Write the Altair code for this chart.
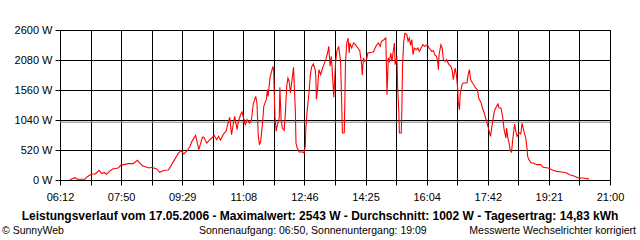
import json
import altair as alt
import pandas as pd

# Power readings (minutes after midnight, W)
minutes = [
    388, 396, 400, 412, 416, 423, 429, 435, 439, 444, 447, 453, 458, 466, 470, 482, 490, 497, 501, 506,
    516, 520, 528, 533, 540, 547, 555, 563, 567, 572, 577, 582,
    585, 591, 596, 602, 604, 609, 614, 617, 621, 625, 628, 631, 636, 640, 644, 646, 649, 652, 654, 658,
    660, 664, 666, 671, 674, 678, 681,
    684, 688, 690, 692, 694, 696, 699, 701, 705, 707, 708, 711, 714, 716, 717, 719, 721, 723, 726, 727,
    729, 731, 734, 736, 738, 740, 742, 744, 746, 749, 750, 752, 753, 755, 758, 764, 766, 768, 769, 771,
    774, 776, 778, 781, 784, 785, 786, 788, 790,
    793, 795, 798, 801, 804, 806, 808, 810, 812, 814, 817, 819, 822, 825, 827, 828, 831, 833, 835, 837,
    839, 840, 843, 846, 849, 853, 856, 859, 860, 862, 864, 867, 869, 875, 878, 882, 886, 889, 891, 895,
    898,
    899, 900, 902, 904, 906, 908, 910, 912, 913, 916, 917, 919, 920, 923, 924, 925, 927, 929, 932, 934,
    936, 938, 940, 942, 944, 947, 950, 952, 955, 958, 961, 965, 968, 972, 975, 977, 980, 982, 983, 984,
    987, 989, 991, 994, 996, 1000,
    1003, 1005, 1007, 1010, 1012, 1014, 1015, 1017, 1018, 1021, 1023, 1029, 1031, 1033, 1035, 1038,
    1040, 1043, 1046, 1048, 1052, 1054, 1057, 1059, 1061, 1063, 1065, 1067, 1069, 1072, 1074, 1077,
    1079, 1081, 1084, 1087, 1089, 1092, 1093, 1095, 1097, 1099, 1101, 1103,
    1106, 1108, 1110, 1113, 1116, 1118, 1121, 1124, 1126, 1127, 1129, 1133, 1136, 1142, 1148, 1152,
    1160, 1166, 1174, 1182, 1190, 1195, 1203, 1209, 1217, 1222, 1226,
]
watts = [
    5, 40, 12, 12, 57, 104, 104, 168, 116, 127, 99, 161, 196, 208, 254, 283, 283, 341, 289, 243,
    208, 220, 191, 133, 168, 173, 318, 462, 508, 451, 503, 584,
    670, 774, 526, 740, 745, 641, 699, 728, 774, 699, 757, 693, 797, 844, 1017, 1087, 786, 988, 1104, 872,
    1017, 1144, 1179, 959, 1046, 988, 1028,
    1317, 1450, 1335, 786, 612, 670, 988, 1277, 1392, 1566, 1450, 1768, 1901, 1971, 1884, 1104, 844, 959, 1075, 1607,
    1046, 901, 861, 1190, 1624, 1768, 1711, 1508, 1681, 1953, 1711, 1190, 641, 555, 485, 485, 468, 584, 901, 1190,
    1508, 1797, 1953, 2011, 1912, 1797, 1400, 1595, 1912,
    1826, 1912, 1999, 2086, 2201, 2317, 1971, 2144, 1826, 1433, 2057, 2230, 2317, 2057, 1248, 815, 820, 2057, 2375, 2461,
    2201, 2375, 2288, 2375, 2345, 2288, 2241, 1999, 1815, 2114, 2057, 2086, 2201, 2213, 2220, 2317, 2375, 2317, 2404, 2432,
    2461,
    1971, 1479, 2114, 2057, 2201, 2057, 2230, 2375, 1999, 2144, 1652, 1190, 815, 815, 1248, 1971, 2404, 2543, 2519, 2404,
    2461, 2334, 2432, 2172, 2288, 2259, 2288, 2230, 2288, 2345, 2317, 2345, 2288, 2230, 2241, 2172, 2144, 2028, 1912, 2172,
    2345, 2288, 2086, 2057, 2086, 2000,
    1971, 1912, 1739, 1941, 1826, 1595, 1352, 1219, 1479, 1652, 1681, 1681, 1826, 1912, 1739, 1681,
    1652, 1595, 1566, 1421, 1335, 1248, 1161, 1075, 1017, 930, 844, 757, 901, 1121, 1219, 1277,
    1317, 1248, 1248, 1075, 872, 728, 901, 728, 641, 508, 485, 700,
    971, 844, 757, 815, 800, 988, 844, 728, 555, 410, 352, 295, 295, 266, 266, 220,
    208, 179, 150, 139, 121, 92, 64, 35, 35, 23, 20,
]
average_w = [1002]

x_labels = ["06:12", "07:50", "09:29", "11:08", "12:46", "14:25", "16:04", "17:42", "19:21", "21:00"]
y_ticks = [0, 520, 1040, 1560, 2080, 2600]

title_text = ("Leistungsverlauf vom 17.05.2006 - Maximalwert: 2543 W - Durchschnitt: 1002 W - "
              "Tagesertrag: 14,83 kWh")
left_note = "© SunnyWeb"
mid_note = "Sonnenaufgang: 06:50, Sonnenuntergang: 19:09"
right_note = "Messwerte Wechselrichter korrigiert"

x_start, x_end = 372, 1260
n_grid = 18
step = (x_end - x_start) / n_grid
x_grid = [x_start + i * step for i in range(n_grid + 1)]

df = pd.DataFrame({"t": minutes, "w": watts})

FONT = "Liberation Sans"

label_expr = (
    f"(round((datum.value-{x_start})/{step}) % 2 == 0) ? "
    f"{json.dumps(x_labels)}[round((datum.value-{x_start})/{2*step})] : ''"
)

x_scale = alt.Scale(domain=[x_start, x_end], nice=False, zero=False)
y_scale = alt.Scale(domain=[0, 2600], nice=False)

x_axis = alt.Axis(values=x_grid, labelExpr=label_expr, title=None, grid=True,
                  gridColor="black", gridOpacity=1, gridWidth=1, domain=False,
                  tickColor="black", tickSize=5, tickWidth=1, labelPadding=6,
                  labelFont=FONT, labelFontSize=11, labelColor="black", labelFlush=False,
                  labelOverlap=False)
y_axis = alt.Axis(values=y_ticks, labelExpr="datum.value + ' W'", title=None, grid=True,
                  gridColor="black", gridOpacity=1, gridWidth=1, domain=False,
                  tickColor="black", tickSize=5, tickWidth=1, labelPadding=3,
                  labelFont=FONT, labelFontSize=11, labelColor="black")


def xenc(field):
    return alt.X(field, type="quantitative", scale=x_scale, axis=x_axis)


def yenc(field):
    return alt.Y(field, type="quantitative", scale=y_scale, axis=y_axis)


line = alt.Chart(df).mark_line(color="#ff0000", strokeWidth=1.1).encode(
    x=xenc("t"), y=yenc("w")
)

avg = alt.Chart(pd.DataFrame({"w": average_w})).mark_rule(
    color="#808080", strokeWidth=1
).encode(y=yenc("w"))


def txt(s, x, y, align, bold=False, size=11):
    return alt.Chart(pd.DataFrame({"s": [s]})).mark_text(
        align=align, baseline="middle", font=FONT, fontSize=size,
        fontWeight="bold" if bold else "normal", color="black"
    ).encode(text="s:N", x=alt.value(x), y=alt.value(y))


chart = alt.layer(
    avg, line,
    txt(title_text, 260, 186, "center", bold=True, size=12),
    txt(left_note, -58, 200.5, "left", size=10.5),
    txt(mid_note, 139, 200.5, "left", size=10.5),
    txt(right_note, 576, 200.5, "right", size=10.5),
).properties(
    width=550, height=150,
    padding={"left": 60, "top": 30, "right": 30, "bottom": 60},
    autosize="none",
    background="white",
).configure_view(stroke="black", strokeWidth=1)

chart.save("out.html", embed_options={"renderer": "svg", "actions": False})
